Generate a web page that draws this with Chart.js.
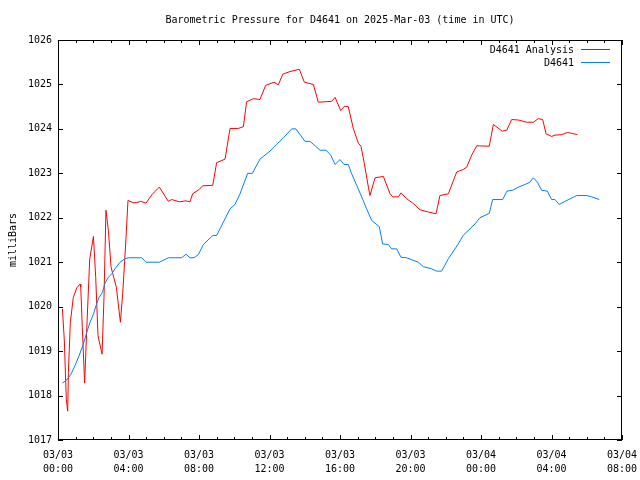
<!DOCTYPE html>
<html>
<head>
<meta charset="utf-8">
<script src="https://cdn.jsdelivr.net/npm/chart.js@4/dist/chart.umd.min.js"></script>
<style>
body { margin: 0; background: #fff; }
</style>
</head>
<body>
<canvas id="pressure" width="640" height="480"></canvas>
<script>
// hours since 03/03 00:00 UTC
const analysisHours = [0.25, 0.36, 0.47, 0.55, 0.59, 0.70, 0.87, 1.06, 1.25, 1.29, 1.38, 1.51, 1.65, 1.80, 2.01, 2.14, 2.27, 2.50, 2.61, 2.72, 2.86, 3.01, 3.31, 3.54, 3.67, 3.84, 3.97, 4.27, 4.46, 4.69, 4.99, 5.35, 5.75, 6.26, 6.45, 6.89, 7.26, 7.49, 7.64, 8.02, 8.21, 8.78, 9.00, 9.48, 9.76, 10.23, 10.52, 10.70, 11.08, 11.46, 11.78, 12.26, 12.50, 12.75, 13.16, 13.69, 13.98, 14.49, 14.77, 15.53, 15.72, 16.04, 16.26, 16.47, 16.76, 17.04, 17.19, 17.38, 17.61, 17.70, 17.99, 18.46, 18.84, 18.99, 19.31, 19.46, 19.78, 20.16, 20.54, 21.01, 21.45, 21.67, 22.15, 22.62, 23.00, 23.19, 23.47, 23.76, 24.47, 24.70, 25.20, 25.46, 25.74, 26.12, 26.59, 26.97, 27.25, 27.50, 27.69, 28.01, 28.20, 28.58, 28.90, 29.14, 29.47]
const analysisValues = [1019.95, 1019.23, 1017.92, 1017.65, 1018.52, 1019.65, 1020.21, 1020.42, 1020.51, 1020.44, 1019.53, 1018.28, 1019.68, 1021.07, 1021.58, 1020.66, 1019.35, 1018.93, 1020.21, 1022.17, 1021.71, 1020.89, 1020.44, 1019.65, 1020.29, 1021.41, 1022.39, 1022.34, 1022.34, 1022.37, 1022.33, 1022.53, 1022.69, 1022.37, 1022.41, 1022.36, 1022.38, 1022.36, 1022.54, 1022.64, 1022.72, 1022.73, 1023.24, 1023.32, 1024.01, 1024.01, 1024.05, 1024.61, 1024.68, 1024.66, 1024.98, 1025.05, 1024.99, 1025.23, 1025.29, 1025.34, 1025.05, 1025.00, 1024.60, 1024.62, 1024.71, 1024.41, 1024.51, 1024.50, 1024.00, 1023.68, 1023.61, 1023.22, 1022.69, 1022.50, 1022.90, 1022.93, 1022.54, 1022.47, 1022.47, 1022.56, 1022.43, 1022.32, 1022.18, 1022.13, 1022.09, 1022.50, 1022.54, 1023.03, 1023.09, 1023.14, 1023.41, 1023.62, 1023.61, 1024.10, 1023.95, 1023.97, 1024.21, 1024.20, 1024.15, 1024.15, 1024.23, 1024.21, 1023.89, 1023.83, 1023.86, 1023.87, 1023.92, 1023.90, 1023.87]

const stationHours = [0.25, 0.49, 0.74, 0.96, 1.19, 1.44, 1.63, 1.82, 2.01, 2.19, 2.33, 2.52, 2.67, 2.86, 3.05, 3.23, 3.52, 3.80, 3.99, 4.75, 4.99, 5.75, 6.26, 7.02, 7.26, 7.49, 7.72, 7.96, 8.25, 8.78, 9.00, 9.48, 9.76, 10.04, 10.33, 10.76, 11.03, 11.46, 12.03, 12.79, 13.26, 13.50, 14.01, 14.30, 14.87, 15.21, 15.47, 15.72, 16.00, 16.23, 16.47, 16.66, 16.95, 17.23, 17.51, 17.80, 18.23, 18.42, 18.74, 18.93, 19.22, 19.46, 19.78, 20.44, 20.73, 21.20, 21.48, 21.77, 22.15, 22.71, 23.00, 23.66, 23.94, 24.47, 24.66, 25.23, 25.47, 25.80, 26.12, 26.50, 26.78, 26.97, 27.20, 27.44, 27.76, 28.01, 28.20, 28.43, 28.77, 29.43, 30.00, 30.28, 30.71]
const stationValues = [1018.28, 1018.35, 1018.48, 1018.67, 1018.89, 1019.16, 1019.42, 1019.65, 1019.83, 1020.06, 1020.21, 1020.32, 1020.53, 1020.66, 1020.74, 1020.85, 1021.00, 1021.08, 1021.10, 1021.10, 1021.00, 1021.00, 1021.10, 1021.10, 1021.18, 1021.10, 1021.10, 1021.17, 1021.40, 1021.60, 1021.60, 1021.98, 1022.20, 1022.30, 1022.54, 1023.00, 1023.00, 1023.32, 1023.50, 1023.80, 1024.00, 1024.00, 1023.72, 1023.72, 1023.52, 1023.52, 1023.41, 1023.20, 1023.31, 1023.20, 1023.20, 1022.99, 1022.73, 1022.47, 1022.20, 1021.94, 1021.80, 1021.41, 1021.40, 1021.30, 1021.30, 1021.11, 1021.10, 1021.00, 1020.90, 1020.85, 1020.80, 1020.80, 1021.08, 1021.41, 1021.61, 1021.86, 1022.00, 1022.10, 1022.41, 1022.41, 1022.60, 1022.62, 1022.69, 1022.75, 1022.80, 1022.90, 1022.80, 1022.62, 1022.60, 1022.41, 1022.41, 1022.30, 1022.37, 1022.50, 1022.50, 1022.47, 1022.41]

const dayLabels = ['03/03', '03/04']
const titleText = 'Barometric Pressure for D4641 on 2025-Mar-03 (time in UTC)'

const toPoints = (xs, ys) => xs.map((h, i) => ({ x: h, y: ys[i] }))
const FONT = 'DejaVu Sans Mono'

Chart.defaults.font.family = FONT
Chart.defaults.font.size = 10
Chart.defaults.color = '#000'

// gnuplot-like frame, inward tics, title and legend
const gnuFrame = {
    id: 'gnuFrame',
    afterDraw(chart) {
        const { ctx, chartArea: a, scales: { x, y } } = chart
        ctx.save()
        ctx.strokeStyle = '#000'
        ctx.lineWidth = 1
        ctx.strokeRect(a.left + 0.5, a.top + 0.5, a.right - a.left - 1, a.bottom - a.top - 1)
        ctx.beginPath()
        for (let h = x.min; h <= x.max; h++) {
            const px = Math.round(x.getPixelForValue(h)) + 0.5
            const len = h % 4 === 0 ? 5 : 3
            ctx.moveTo(px, a.bottom); ctx.lineTo(px, a.bottom - len)
            ctx.moveTo(px, a.top); ctx.lineTo(px, a.top + len)
        }
        for (let v = y.min; v <= y.max; v++) {
            const py = Math.round(y.getPixelForValue(v)) + 0.5
            ctx.moveTo(a.left, py); ctx.lineTo(a.left + 5, py)
            ctx.moveTo(a.right, py); ctx.lineTo(a.right - 5, py)
        }
        ctx.stroke()

        ctx.fillStyle = '#000'
        ctx.font = '10px ' + FONT
        ctx.textBaseline = 'middle'
        ctx.textAlign = 'center'
        ctx.fillText(titleText, (a.left + a.right) / 2, 20)

        ctx.textAlign = 'right'
        chart.data.datasets.forEach((ds, i) => {
            const ly = a.top + 10 + i * 13
            ctx.fillStyle = '#000'
            ctx.fillText(ds.label, a.right - 48, ly)
            ctx.strokeStyle = ds.borderColor
            ctx.beginPath()
            ctx.moveTo(a.right - 41, ly - 0.5)
            ctx.lineTo(a.right - 12, ly - 0.5)
            ctx.stroke()
        })
        ctx.restore()
    }
}

new Chart(document.getElementById('pressure'), {
    type: 'line',
    data: {
        datasets: [{
            label: 'D4641 Analysis',
            data: toPoints(analysisHours, analysisValues),
            borderColor: '#ff0000',
            order: 2
        }, {
            label: 'D4641',
            data: toPoints(stationHours, stationValues),
            borderColor: '#0080ff',
            order: 1
        }]
    },
    options: {
        responsive: false,
        animation: false,
        layout: { padding: { top: 40, right: 18 } },
        elements: {
            line: { borderWidth: 1, tension: 0, fill: false },
            point: { radius: 0 }
        },
        plugins: {
            legend: { display: false },
            title: { display: false },
            tooltip: { enabled: false }
        },
        scales: {
            x: {
                type: 'linear',
                min: 0,
                max: 32,
                grid: { display: false, drawTicks: false },
                border: { display: false },
                ticks: {
                    stepSize: 4,
                    autoSkip: false,
                    maxRotation: 0,
                    padding: 8,
                    font: { lineHeight: 1.4 },
                    callback: v => [dayLabels[Math.floor(v / 24)], String(v % 24).padStart(2, '0') + ':00']
                },
                afterFit: s => {
                    s.height = 40
                    s.paddingLeft = 0
                    s.paddingRight = 0
                }
            },
            y: {
                min: 1017,
                max: 1026,
                grid: { display: false, drawTicks: false },
                border: { display: false },
                ticks: { stepSize: 1, padding: 6, callback: v => String(v) },
                title: { display: true, text: 'milliBars', padding: { top: 7, bottom: 0 } },
                afterFit: s => {
                    s.width = 58
                    s.paddingTop = 0
                    s.paddingBottom = 0
                }
            }
        }
    },
    plugins: [gnuFrame]
})
</script>
</body>
</html>
